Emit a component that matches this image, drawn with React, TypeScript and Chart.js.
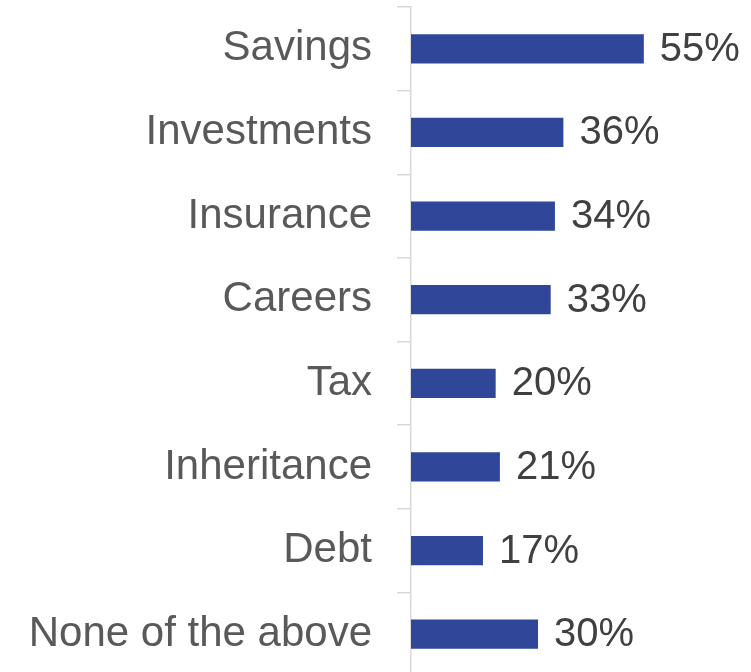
import React, { useEffect, useRef } from "react";
import { Chart, registerables } from "chart.js";

Chart.register(...registerables);

const categories = [
  "Savings",
  "Investments",
  "Insurance",
  "Careers",
  "Tax",
  "Inheritance",
  "Debt",
  "None of the above",
];
const values = [55, 36, 34, 33, 20, 21, 17, 30];

const FONT = "'Liberation Sans', Arial, sans-serif";

const dataLabelPlugin = {
  id: "dataLabels",
  afterDatasetsDraw(chart: any) {
    const ctx = chart.ctx;
    const meta = chart.getDatasetMeta(0);
    ctx.save();
    ctx.font = `40px ${FONT}`;
    ctx.fillStyle = "#404040";
    ctx.textAlign = "left";
    ctx.textBaseline = "middle";
    meta.data.forEach((bar: any, i: number) => {
      ctx.fillText(`${values[i]}%`, bar.x + 16, bar.y + 1);
    });
    ctx.restore();
  },
};

export default function App() {
  const ref = useRef<HTMLCanvasElement>(null);
  useEffect(() => {
    document.body.style.margin = "0";
    document.body.style.overflow = "hidden";
    const chart = new Chart(ref.current!, {
      type: "bar",
      data: {
        labels: categories,
        datasets: [
          {
            data: values,
            backgroundColor: "#2F4699",
            borderWidth: 0,
            barPercentage: 0.35,
            categoryPercentage: 1,
          },
        ],
      },
      options: {
        indexAxis: "y",
        animation: false,
        responsive: false,
        maintainAspectRatio: false,
        layout: { padding: { top: 7, bottom: 0, left: 0, right: 86 } },
        plugins: { legend: { display: false }, tooltip: { enabled: false } },
        scales: {
          x: { display: false, min: 0, max: 60 },
          y: {
            afterFit: (s: any) => {
              s.width = 411;
              s.paddingTop = 0;
              s.paddingBottom = 0;
            },
            grid: {
              drawOnChartArea: false,
              drawTicks: true,
              tickLength: 14,
              color: "#D9D9D9",
              lineWidth: 1.5,
              offset: true,
            },
            border: { display: true, color: "#D9D9D9", width: 1.5 },
            ticks: {
              padding: 25,
              color: "#595959",
              font: { family: FONT, size: 42 },
            },
          },
        },
      },
      plugins: [dataLabelPlugin],
    });
    return () => chart.destroy();
  }, []);
  return (
    <div style={{ width: 751, height: 672, overflow: "hidden" }}>
      <canvas ref={ref} width={751} height={676} style={{ display: "block" }} />
    </div>
  );
}
